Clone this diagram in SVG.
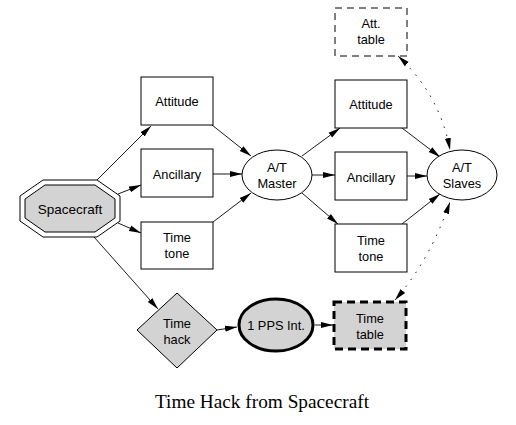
<svg xmlns="http://www.w3.org/2000/svg" width="516" height="425" viewBox="0 0 516 425">
<style>
text{font-family:"Liberation Sans",Arial,sans-serif;font-size:12.8px;fill:#000;text-anchor:middle}
.cap{font-family:"Liberation Serif","Times New Roman",serif;font-size:19.3px}
.box{fill:#fff;stroke:#000;stroke-width:1}
.gray{fill:#d3d3d3;stroke:#000;stroke-width:1}
.e{fill:none;stroke:#000;stroke-width:0.9;marker-end:url(#ah)}
.d{fill:none;stroke:#000;stroke-width:1;stroke-dasharray:1.5,7;marker-start:url(#ah);marker-end:url(#ah)}
</style>
<defs>
<marker id="ah" markerUnits="userSpaceOnUse" markerWidth="13" markerHeight="8" refX="12" refY="4" orient="auto-start-reverse" viewBox="0 0 13 8">
<path d="M0,1 L12,4 L0,7 Z" fill="#000"/>
</marker>
</defs>
<rect width="516" height="425" fill="#fff"/>
<g id="connectors">
<line class="e" x1="95" y1="182" x2="151" y2="126"/>
<line class="e" x1="118" y1="194" x2="141" y2="185"/>
<line class="e" x1="118" y1="223" x2="141" y2="233"/>
<line class="e" x1="94" y1="237" x2="158" y2="309"/>
<line class="e" x1="212" y1="125" x2="251" y2="156"/>
<line class="e" x1="213" y1="174" x2="242" y2="174"/>
<line class="e" x1="213" y1="222" x2="251" y2="193"/>
<line class="e" x1="302" y1="156" x2="340" y2="128"/>
<line class="e" x1="312" y1="175" x2="335" y2="175"/>
<line class="e" x1="302" y1="193" x2="338" y2="224"/>
<line class="e" x1="402" y1="128" x2="440" y2="157"/>
<line class="e" x1="407" y1="176" x2="427" y2="176"/>
<line class="e" x1="402" y1="224" x2="440" y2="194"/>
<line class="e" x1="217" y1="330" x2="237" y2="327"/>
<line class="e" x1="315" y1="325" x2="333" y2="325"/>
<path class="d" d="M398,56 Q440,95 450,150"/>
<path class="d" d="M395,300 Q430,260 450,202"/>
</g>
<g id="spacecraft">
<polygon class="box" points="43,180 97,180 120,196 120,221 97,237 43,237 20,221 20,196"/>
<polygon class="gray" points="45,185 95,185 115,199 115,218 95,232 45,232 25,218 25,199"/>
<text x="70" y="214" style="font-size:13.5px">Spacecraft</text>
</g>
<g id="attitude1">
<rect class="box" x="141" y="77" width="72" height="48"/>
<text x="177" y="106">Attitude</text>
</g>
<g id="ancillary1">
<rect class="box" x="141" y="149" width="72" height="48"/>
<text x="177" y="179">Ancillary</text>
</g>
<g id="timetone1">
<rect class="box" x="141" y="222" width="72" height="47"/>
<text x="177" y="242">Time</text>
<text x="177" y="258">tone</text>
</g>
<g id="master">
<ellipse class="box" cx="277" cy="175" rx="35" ry="25"/>
<text x="277" y="172">A/T</text>
<text x="277" y="188">Master</text>
</g>
<g id="atttable">
<rect x="335" y="8" width="72" height="48" fill="#fff" stroke="#000" stroke-width="1" stroke-dasharray="7,5"/>
<text x="371" y="28">Att.</text>
<text x="371" y="44">table</text>
</g>
<g id="attitude2">
<rect class="box" x="335" y="80" width="72" height="48"/>
<text x="371" y="109">Attitude</text>
</g>
<g id="ancillary2">
<rect class="box" x="335" y="152" width="72" height="48"/>
<text x="371" y="182">Ancillary</text>
</g>
<g id="timetone2">
<rect class="box" x="335" y="224" width="72" height="48"/>
<text x="371" y="245">Time</text>
<text x="371" y="261">tone</text>
</g>
<g id="slaves">
<ellipse class="box" cx="462" cy="175" rx="35" ry="25"/>
<text x="462" y="172">A/T</text>
<text x="462" y="188">Slaves</text>
</g>
<g id="timehack">
<polygon class="gray" points="177,293 217,330 177,368 137,330"/>
<text x="177" y="328">Time</text>
<text x="177" y="344">hack</text>
</g>
<g id="pps">
<ellipse cx="276" cy="325" rx="37" ry="26" fill="#d3d3d3" stroke="#000" stroke-width="3"/>
<text x="276" y="330">1 PPS Int.</text>
</g>
<g id="timetable">
<rect x="334" y="302" width="72" height="47" fill="#d3d3d3" stroke="#000" stroke-width="3" stroke-dasharray="8,5"/>
<text x="370" y="323">Time</text>
<text x="370" y="339">table</text>
</g>
<text class="cap" x="262" y="408">Time Hack from Spacecraft</text>
</svg>
